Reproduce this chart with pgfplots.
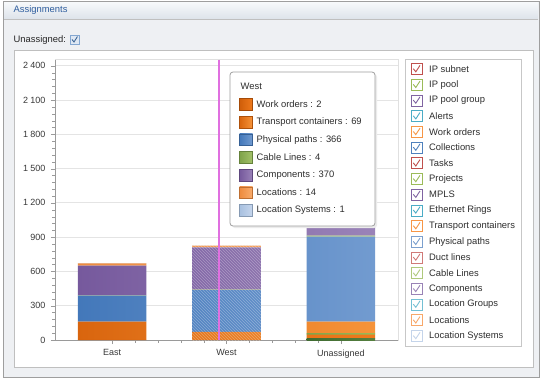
\documentclass[border=0pt]{standalone}
\usepackage{fontspec}
\setmainfont{Liberation Sans}
\usepackage{pgfplots}
\pgfplotsset{compat=1.18}
\usetikzlibrary{patterns}

\definecolor{woL}{HTML}{CF5E0A}\definecolor{woR}{HTML}{EF7A1C}
\definecolor{tcL}{HTML}{D9650E}\definecolor{tcR}{HTML}{F6943A}
\definecolor{ppL}{HTML}{4378BA}\definecolor{ppR}{HTML}{729BD0}
\definecolor{coL}{HTML}{76599D}\definecolor{coR}{HTML}{9A83B8}
\definecolor{clL}{HTML}{7FA34A}\definecolor{clR}{HTML}{A3C26A}
\definecolor{loL}{HTML}{EE8B3E}\definecolor{loR}{HTML}{F8AD6E}
\definecolor{lsL}{HTML}{A8C0E0}\definecolor{lsR}{HTML}{C6D6EC}
\definecolor{ipL}{HTML}{3E6A30}\definecolor{ipR}{HTML}{56803F}
\definecolor{prL}{HTML}{7FA34A}\definecolor{prR}{HTML}{9BBB59}

\definecolor{cR}{HTML}{C0504D}\definecolor{cG}{HTML}{9BBB59}
\definecolor{cP}{HTML}{8064A2}\definecolor{cC}{HTML}{4BACC6}
\definecolor{cO}{HTML}{F79646}\definecolor{cB}{HTML}{4F81BD}
\definecolor{cR2}{HTML}{D07A78}\definecolor{cG2}{HTML}{AFC97C}
\definecolor{cP2}{HTML}{9983B6}\definecolor{cC2}{HTML}{74C0D4}
\definecolor{cO2}{HTML}{F8A86A}\definecolor{cB2}{HTML}{7CA0CE}
\definecolor{cLS}{HTML}{C4D4EA}

\definecolor{winbg}{HTML}{EEF0F3}
\definecolor{hdrtop}{HTML}{F7F9FB}
\definecolor{hdrbot}{HTML}{DDE3EA}
\definecolor{hdrtext}{HTML}{2F5E9E}
\definecolor{gridc}{HTML}{E4E4E4}
\definecolor{axc}{HTML}{9A9A9A}
\definecolor{crossc}{rgb}{0.88,0.44,0.88}

\pgfplotstableread{
x ipp wo proj tc pp cl co lo ls
0 0  2  0 158 228 3 260 20 1
1 0  2  0  69 366 4 370 14 1
2 12 35 8 105 745 8 200 15 2
}\bars

\newcommand{\fs}{\fontsize{9.4}{11}\selectfont}
\newcommand{\fst}{\fontsize{9}{10}\selectfont}

\begin{document}
\begin{tikzpicture}
\begin{scope}[x=1pt,y=-1pt]
  \path[use as bounding box] (0,0) rectangle (544,381);
  \fill[white] (0,0) rectangle (544,381);
  \filldraw[fill=winbg, draw=black!38] (3,1) rectangle (539,377);
  \shade[top color=hdrtop, bottom color=hdrbot] (4,2) rectangle (538,19);
  \draw[black!25] (4,19) -- (538,19);
  \node[anchor=west, text=hdrtext, font=\fs, inner sep=0pt] at (13.5,10.5) {Assignments};
  \node[anchor=west, text=black!85, font=\fs, inner sep=0pt] at (13.5,40) {Unassigned:};
  \filldraw[fill=cB!18, draw=cB!70] (70,35) rectangle (79,44);
  \draw[cB!80!black, line width=0.9pt] (72,39.5) -- (74,42) -- (77.5,36.5);
  \filldraw[fill=white, draw=black!25] (14,50) rectangle (533,367);
  \draw[black!12] (55,59.5) rectangle (398,340);
\end{scope}

\begin{axis}[
  at={(55pt,-340pt)}, anchor=south west,
  scale only axis, width=343pt, height=280.5pt,
  xmin=-0.5, xmax=2.5, ymin=0, ymax=2455,
  ybar stacked, bar width=0.6,
  axis x line*=bottom, axis y line*=left,
  axis line style={draw=axc, -},
  xtick={0,1,2}, xticklabels={East,West,Unassigned},
  minor x tick num=4,
  ytick={0,300,...,2400}, minor y tick num=4,
  tick align=outside, tick style={draw=axc},
  major tick length=4pt, minor tick length=2.5pt,
  ymajorgrids, grid style={draw=gridc, line width=0.8pt},
  tick label style={font=\fst, text=black!78},
  /pgf/number format/assume math mode=true,
  /pgf/number format/1000 sep={\hspace{2.2pt}},
  yticklabel style={xshift=-2pt},
  xticklabel style={yshift=-2pt},
  clip=false,
]
\addplot[draw=none, left color=ipL, right color=ipR] table[x=x,y=ipp]{\bars};
\addplot[draw=none, left color=woL, right color=woR] table[x=x,y=wo]{\bars};
\addplot[draw=none, left color=prL, right color=prR] table[x=x,y=proj]{\bars};
\addplot[draw=none, left color=tcL, right color=tcR] table[x=x,y=tc]{\bars};
\addplot[draw=none, left color=ppL, right color=ppR] table[x=x,y=pp]{\bars};
\addplot[draw=none, left color=clL, right color=clR] table[x=x,y=cl]{\bars};
\addplot[draw=none, left color=coL, right color=coR] table[x=x,y=co]{\bars};
\addplot[draw=none, left color=loL, right color=loR] table[x=x,y=lo]{\bars};
\addplot[draw=none, left color=lsL, right color=lsR] table[x=x,y=ls]{\bars};
\end{axis}

\begin{axis}[
  at={(55pt,-340pt)}, anchor=south west,
  scale only axis, width=343pt, height=280.5pt,
  xmin=-0.5, xmax=2.5, ymin=0, ymax=2455,
  hide axis, clip=false,
]
\addplot[ybar, bar width=0.6, bar shift=0pt, draw=none,
  pattern=north west lines, pattern color=white, opacity=0.3]
  coordinates {(1,826)};
\end{axis}

\begin{scope}[x=1pt,y=-1pt]
  % crosshair cursor (UI decoration)
  \draw[crossc, line width=1.3pt] (219,59.5) -- (219,340);
  % legend panel
  \filldraw[fill=white, draw=black!22] (405,59) rectangle (521,346);
  \foreach \name/\col [count=\i from 0] in {
    IP subnet/cR, IP pool/cG, IP pool group/cP, Alerts/cC, Work orders/cO,
    Collections/cB, Tasks/cR, Projects/cG, MPLS/cP, Ethernet Rings/cC,
    Transport containers/cO, Physical paths/cB2, Duct lines/cR2, Cable Lines/cG2,
    Components/cP2, Location Groups/cC2, Locations/cO2, Location Systems/cLS} {
    \pgfmathsetmacro\yy{69+15.7*\i}
    \filldraw[fill=white, draw=\col, line width=0.6pt] (411,{\yy-5.5}) rectangle (422,{\yy+5.5});
    \draw[\col, line width=0.9pt] (413.3,{\yy-0.3}) -- (415.8,{\yy+2.8}) -- (420,{\yy-3.6});
    \node[anchor=west, font=\fs, text=black!82, inner sep=0pt] at (429,\yy) {\name};
  }
  % tooltip
  \filldraw[fill=black!8, draw=none, rounded corners=3pt] (232,74) rectangle (377,228);
  \filldraw[fill=white, draw=black!38, line width=0.8pt, rounded corners=3pt] (230,72) rectangle (375,226);
  \node[anchor=west, font=\fs, text=black!82, inner sep=0pt] at (240.5,86.5) {West};
  \foreach \name/\cl/\cr [count=\i from 0] in {
    Work orders : 2/woL/woR,
    Transport containers : 69/tcL/tcR,
    Physical paths : 366/ppL/ppR,
    Cable Lines : 4/clL/clR,
    Components : 370/coL/coR,
    Locations : 14/loL/loR,
    Location Systems : 1/lsL/lsR} {
    \pgfmathsetmacro\yy{104.3+17.65*\i}
    \fill[left color=\cl, right color=\cr] (239.5,{\yy-5.8}) rectangle (252.5,{\yy+5.8});
    \draw[\cl!80!black, line width=0.4pt] (239.5,{\yy-5.8}) rectangle (252.5,{\yy+5.8});
    \node[anchor=west, font=\fs, text=black!82, inner sep=0pt] at (256.5,\yy) {\name};
  }
\end{scope}
\end{tikzpicture}
\end{document}
